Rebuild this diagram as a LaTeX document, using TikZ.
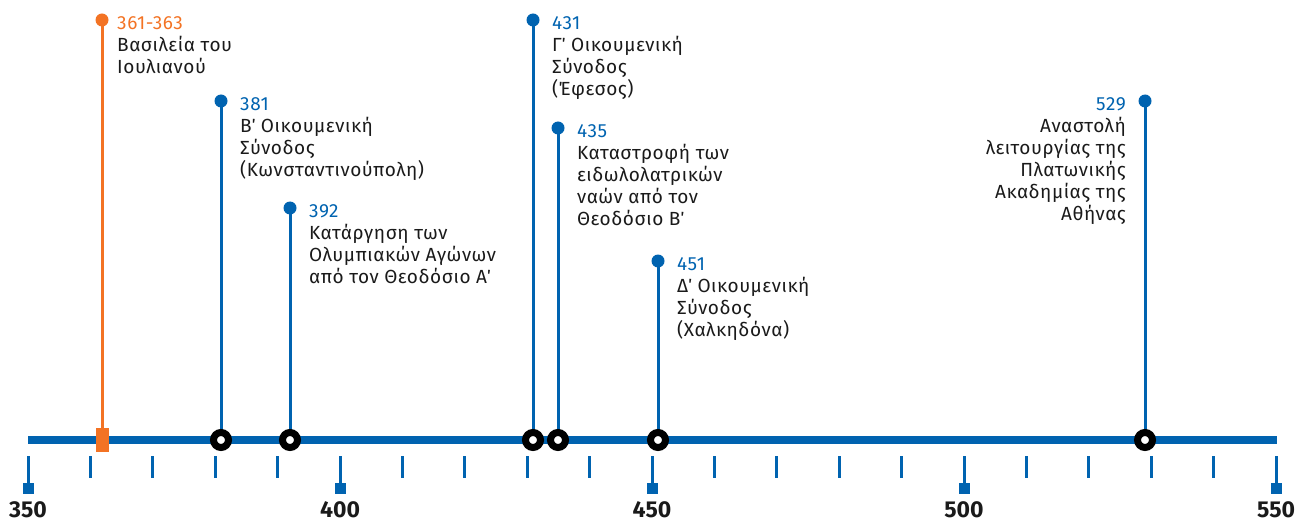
\documentclass[tikz,border=0pt]{standalone}
\usepackage{fontspec}
\setmainfont{Fira Sans}
\newfontfamily\evfont{Fira Sans}[LetterSpace=3]
\definecolor{tlblue}{RGB}{0,99,176}
\definecolor{tlorange}{RGB}{243,115,36}
\definecolor{tltext}{RGB}{26,26,26}
\begin{document}
\begin{tikzpicture}[x=1pt,y=-1pt,
  stem/.style={line width=3pt},
  dot/.style={circle,fill,inner sep=0pt,minimum size=13pt},
  ring/.style={circle,draw=black,fill=white,line width=7pt,inner sep=0pt,minimum size=15pt},
  evtext/.style={inner sep=0pt,font=\evfont\fontsize{19}{22}\selectfont,text=tltext},
  lt/.style={evtext,align=left,anchor=north west},
  rt/.style={evtext,align=right,anchor=north east},
  tick/.style={tlblue,line width=3pt},
  sq/.style={rectangle,fill=tlblue,inner sep=0pt,minimum size=11pt},
  yearlab/.style={inner sep=0pt,anchor=base,font=\fontsize{23}{26}\bfseries,text=tltext}
]
\useasboundingbox (0,0) rectangle (1297,521);
% axis coordinates
\coordinate (a0) at (28,440);
\coordinate (a1) at (1277,440);
% dots
\node[dot,tlorange] (d361) at (102,20) {};
\node[dot,tlblue] (d381) at (221,101) {};
\node[dot,tlblue] (d392) at (290,208) {};
\node[dot,tlblue] (d431) at (533,20) {};
\node[dot,tlblue] (d435) at (558,128) {};
\node[dot,tlblue] (d451) at (658,261) {};
\node[dot,tlblue] (d529) at (1145,101) {};
% axis anchors
\coordinate (p361) at (102,440);
\coordinate (p381) at (221,440);
\coordinate (p392) at (290,440);
\coordinate (p431) at (533,440);
\coordinate (p435) at (558,440);
\coordinate (p451) at (658,440);
\coordinate (p529) at (1145,440);
% stems
\draw[stem,tlorange] (d361.center) -- (p361);
\foreach \e in {381,392,431,435,451,529}{
  \draw[stem,tlblue] (d\e.center) -- (p\e);
}
% axis
\draw[tlblue,line width=8pt] (a0) -- (a1);
% ticks
\foreach \yr in {350,360,...,550}{
  \pgfmathsetmacro{\xx}{28+(\yr-350)*6.24}
  \draw[tick] (\xx,456) -- (\xx,478);
}
\foreach \yr in {350,400,450,500,550}{
  \pgfmathsetmacro{\xx}{28+(\yr-350)*6.24}
  \draw[tick] (\xx,476) -- (\xx,486);
  \node[sq] (s\yr) at (\xx,488.5) {};
  \node[yearlab] (l\yr) at (\xx,517) {\yr};
}
% orange period marker
\node[rectangle,fill=tlorange,inner sep=0pt,minimum width=13pt,minimum height=24pt] (r361) at (102.5,440) {};
% rings
\foreach \e in {381,392,431,435,451,529}{
  \node[ring] (c\e) at (p\e) {};
}
% texts
\node[lt] (t361) at (117,13.6) {\strut\textcolor{tlorange}{361-363}\\Βασιλεία του\\Ιουλιανού};
\node[lt] (t381) at (240,94.6) {\strut\textcolor{tlblue}{381}\\Β΄ Οικουμενική\\Σύνοδος\\(Κωνσταντινούπολη)};
\node[lt] (t392) at (309,201.6) {\strut\textcolor{tlblue}{392}\\Κατάργηση των\\Ολυμπιακών Αγώνων\\από τον Θεοδόσιο Α΄};
\node[lt] (t431) at (552,13.6) {\strut\textcolor{tlblue}{431}\\Γ΄ Οικουμενική\\Σύνοδος\\(Έφεσος)};
\node[lt] (t435) at (577,121.6) {\strut\textcolor{tlblue}{435}\\Καταστροφή των\\ειδωλολατρικών\\ναών από τον\\Θεοδόσιο Β΄};
\node[lt] (t451) at (677,254.6) {\strut\textcolor{tlblue}{451}\\Δ΄ Οικουμενική\\Σύνοδος\\(Χαλκηδόνα)};
\node[rt] (t529) at (1126,94.6) {\strut\textcolor{tlblue}{529}\\Αναστολή\\λειτουργίας της\\Πλατωνικής\\Ακαδημίας της\\Αθήνας};
\end{tikzpicture}
\end{document}
